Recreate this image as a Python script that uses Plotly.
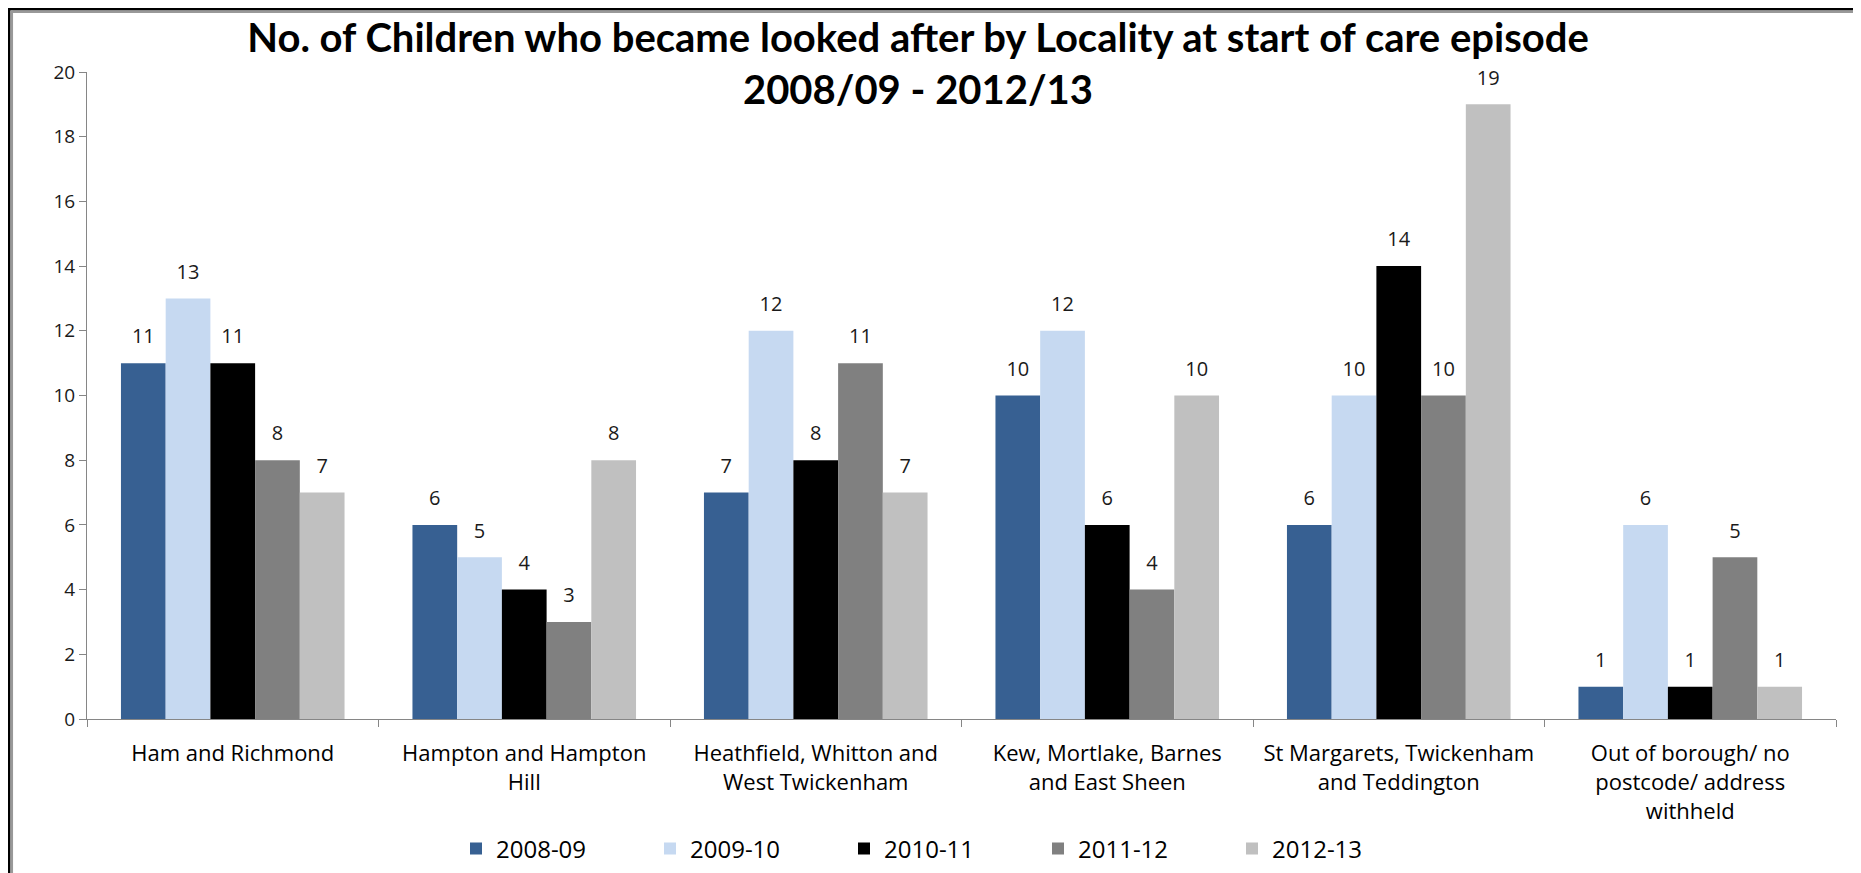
import plotly.graph_objects as go

categories = [
    "Ham and Richmond",
    "Hampton and Hampton<br>Hill",
    "Heathfield, Whitton and<br>West Twickenham",
    "Kew, Mortlake, Barnes<br>and East Sheen",
    "St Margarets, Twickenham<br>and Teddington",
    "Out of borough/ no<br>postcode/ address<br>withheld",
]
series_names = ["2008-09", "2009-10", "2010-11", "2011-12", "2012-13"]
v_2008_09 = [11, 6, 7, 10, 6, 1]
v_2009_10 = [13, 5, 12, 12, 10, 6]
v_2010_11 = [11, 4, 8, 6, 14, 1]
v_2011_12 = [8, 3, 11, 4, 10, 5]
v_2012_13 = [7, 8, 7, 10, 19, 1]
series_values = [v_2008_09, v_2009_10, v_2010_11, v_2011_12, v_2012_13]
colors = ["#376092", "#C6D9F1", "#000000", "#808080", "#C0C0C0"]
y_ticks = [0, 2, 4, 6, 8, 10, 12, 14, 16, 18, 20]

# page has an 8px body margin, so the figure is slightly smaller
W, H = 1853, 865
L, R, T, B = 79, 25, 64, 154
FONT = "Open Sans"
GAP = 0.233

fig = go.Figure()
for name, vals, col in zip(series_names, series_values, colors):
    fig.add_trace(go.Bar(
        x=categories, y=vals, name=name,
        marker=dict(color=col, line=dict(width=0)),
        hoverinfo="x+y+name",
    ))
for name, vals in zip(series_names, series_values):
    fig.add_trace(go.Scatter(
        x=categories, y=vals, name=name, mode="markers+text",
        text=[str(v) for v in vals], textposition="top center",
        marker=dict(size=22, color="rgba(0,0,0,0)"),
        textfont=dict(family=FONT, size=20, color="#1a1a1a"),
        showlegend=False, cliponaxis=False, hoverinfo="skip",
    ))

pw = W - L - R
ph = H - T - B
def px_x(px):
    return (px - L) / pw
def px_y(py):
    return (H - B - py) / ph

shapes = [
    dict(type="line", xref="paper", yref="paper", x0=px_x(1.2), x1=px_x(1.2), y0=px_y(0), y1=px_y(H),
         line=dict(color="#000000", width=2.5)),
    dict(type="line", xref="paper", yref="paper", x0=px_x(0), x1=px_x(W), y0=px_y(1.2), y1=px_y(1.2),
         line=dict(color="#000000", width=2.5)),
    dict(type="line", xref="paper", yref="paper", x0=px_x(3.8), x1=px_x(3.8), y0=px_y(2.5), y1=px_y(H),
         line=dict(color="#999999", width=2.5)),
    dict(type="line", xref="paper", yref="paper", x0=px_x(2.5), x1=px_x(W), y0=px_y(3.8), y1=px_y(3.8),
         line=dict(color="#999999", width=2.5)),
]

fig.update_layout(
    width=W, height=H,
    margin=dict(l=L, r=R, t=T, b=B, autoexpand=False),
    paper_bgcolor="white", plot_bgcolor="white",
    barmode="group", bargap=GAP, bargroupgap=0,
    scattermode="group", scattergap=GAP,
    title=dict(
        text="<b>No. of Children who became looked after by Locality at start of care episode<br>2008/09 - 2012/13</b>",
        x=910 / W, xanchor="center", y=1 - 44 / H, yanchor="middle",
        font=dict(family="Lato", size=40, color="#000000"),
    ),
    font=dict(family=FONT, color="#000000"),
    showlegend=True,
    legend=dict(
        orientation="h", xref="container", x=448 / W, xanchor="left",
        yref="container", y=1 - 841 / H, yanchor="middle",
        font=dict(family=FONT, size=24, color="#000000"),
        entrywidth=149, entrywidthmode="pixels", itemwidth=30,
        traceorder="normal",
    ),
    xaxis=dict(
        showline=True, linecolor="#868686", linewidth=1,
        ticks="outside", tickson="boundaries", ticklen=7, tickcolor="#868686",
        tickfont=dict(family=FONT, size=22, color="#000000"),
        ticklabelstandoff=15, automargin=False,
        showgrid=False,
    ),
    yaxis=dict(
        range=[0, 20], tickvals=y_ticks,
        showline=True, linecolor="#868686", linewidth=1,
        ticks="outside", ticklen=7, tickcolor="#868686",
        tickfont=dict(family=FONT, size=19, color="#1a1a1a"),
        showgrid=False, zeroline=False, automargin=False,
    ),
    shapes=shapes,
)

fig.write_html("out.html")
